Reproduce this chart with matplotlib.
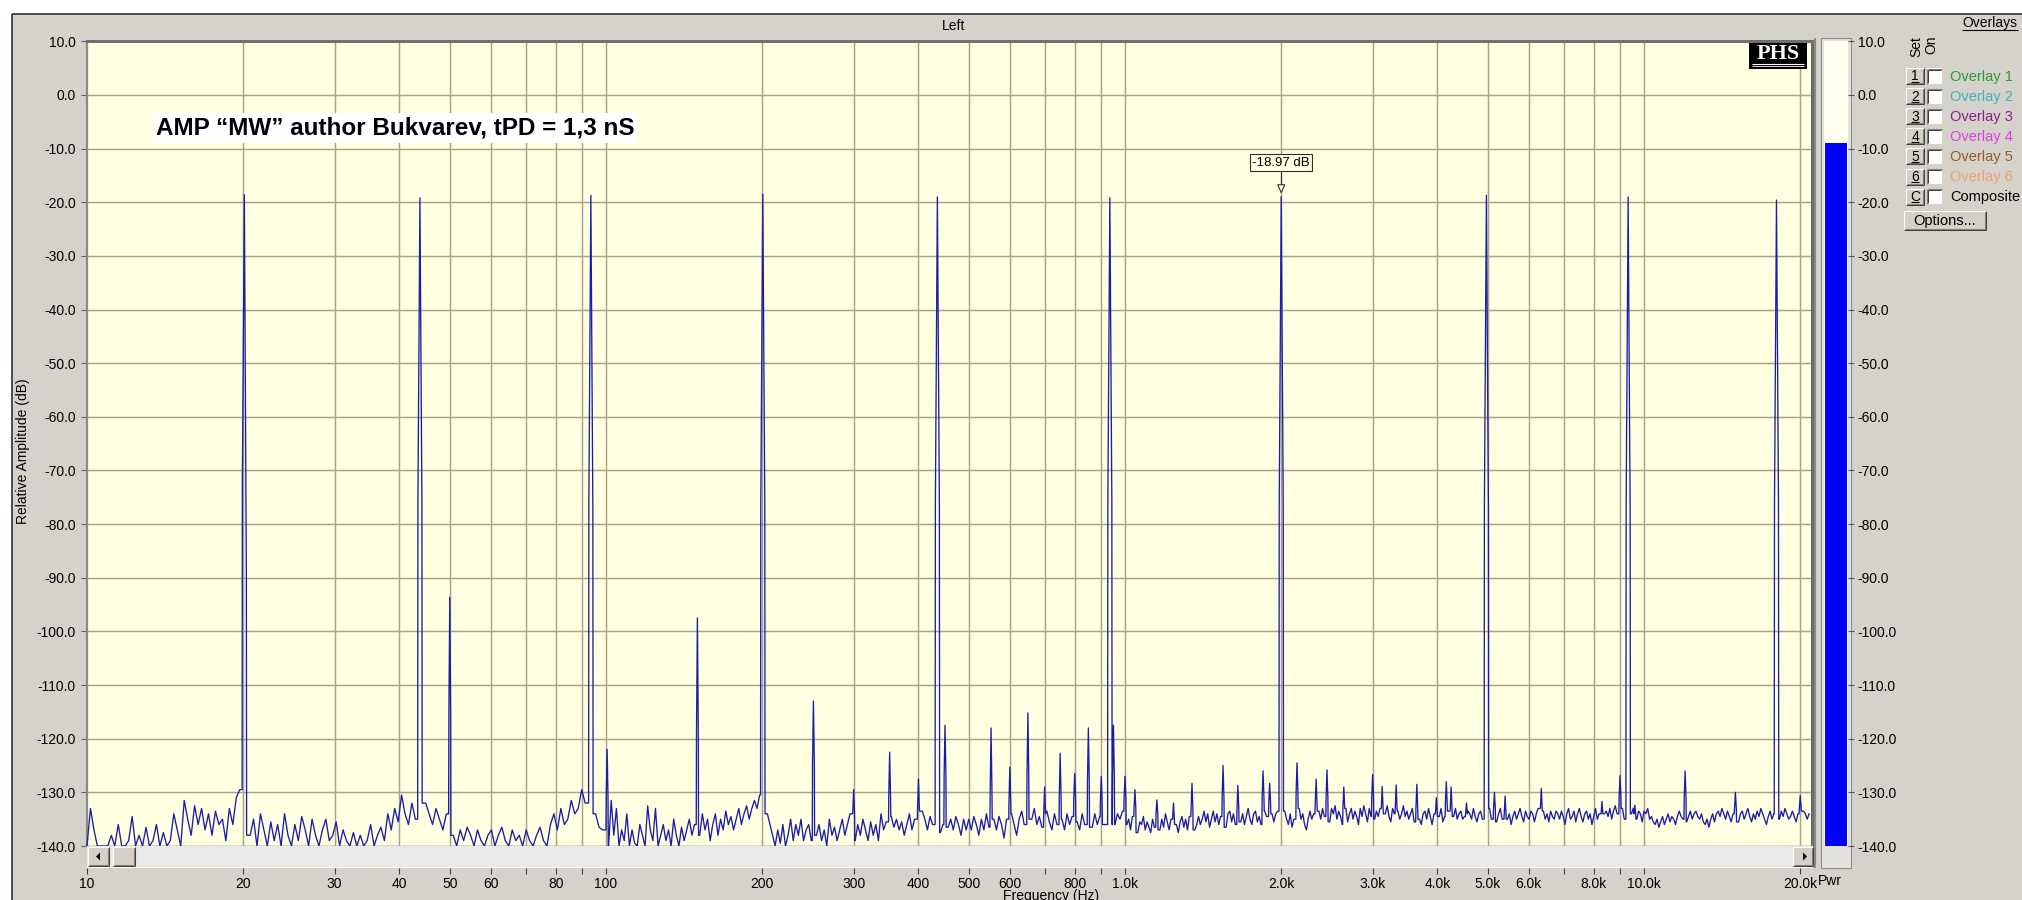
import numpy as np
import matplotlib
matplotlib.use("Agg")
import matplotlib.pyplot as plt
from matplotlib.patches import Rectangle, Polygon
from matplotlib.lines import Line2D
from matplotlib.ticker import NullLocator, NullFormatter, FixedLocator

plt.rcParams['font.family'] = ['Liberation Sans', 'DejaVu Sans']

# ---------------------------------------------------------------- data
tone_freqs = [20.1, 43.8, 93.5, 200.5, 435, 935, 2000, 4970, 9320, 18000]
tone_levels = [-18.6, -19.2, -18.7, -18.5, -19.0, -19.2, -18.97, -18.7, -19.0, -19.6]
tone_shoulder_lo = [-72, -76, -76, -76, -76, -76, -76, -76, -77, -76]
tone_shoulder_hi = [-90, -76, -77, -76, -76, -76, -76, -77, -77, -76]

spur_freqs = [50, 100.5, 150, 251, 300, 352, 400, 450, 552, 600, 650, 700, 750, 800,
              850, 900, 950, 1000, 1045, 1152, 1240, 1346, 1545, 1650, 1845, 1900,
              2145, 2335, 2450, 2640, 3000, 3130, 3330, 3650, 3980, 4160, 4250, 4550,
              5150, 5400, 6340, 8300, 8990, 9600, 12000, 15000, 20000]
spur_levels = [-93.6, -122, -97.5, -113, -129.5, -122.5, -127.5, -117.5, -118, -125.3,
               -115.2, -129, -122.7, -126.5, -118, -127, -117.5, -127, -129.5, -131.4,
               -132, -128.3, -125, -128.7, -126, -128.3, -124.5, -127.5, -125.8, -129,
               -126.7, -128.9, -128.6, -128.5, -131, -128, -129, -132, -130, -130.7,
               -129.3, -131.7, -126.9, -132.4, -126, -130, -130.6]
spur_shoulders = [-116, -131, -119, -124.5, -134, -131, -133, -127, -130, -132,
                  -127, -134, -131, -131, -128, -132, -127, -131, -133, -134,
                  -135, -133, -131, -133, -131, -132, -130, -132, -131, -133,
                  -131, -133, -133, -133, -134, -132, -133, -134, -133, -134,
                  -133, -134, -131, -134, -131, -133, -133]

noise_band_edges = [10, 20, 50, 100, 200, 500, 1000, 2000, 5000, 10000, 20800]
noise_10_20 = [
    -140, -133, -137, -140, -140, -140, -140, -138, -140, -136, -140, -140, -139, -134.5,
    -140, -138, -140, -136.5, -140, -139, -136, -140, -137.5, -140, -139, -134, -137, -140,
    -131.5, -135, -138, -132.5, -136, -133, -137, -134, -138, -133.5, -136, -135, -139,
    -133, -136, -131, -129.5]
noise_20_50 = [
    -132, -134.5, -138, -135, -140, -134, -137, -140, -135.5, -139, -136, -140, -134, -138,
    -140, -136, -139, -134.5, -137, -140, -135, -138, -140, -137, -135, -139, -138,
    -135.5, -140, -137, -139, -140, -137.5, -140, -138, -140, -139, -136, -140, -138,
    -136.5, -139, -134, -137, -133, -135.5,
    -130.5, -134, -136, -132, -135, -131, -133.5, -132, -134, -136, -133, -135, -137, -134]
noise_50_100 = [
    -136, -138, -140, -137, -139, -136.5, -138, -140, -137, -139, -140, -138,
    -137, -140, -138, -136.5, -139, -140, -137, -139, -138, -140,
    -137, -139, -140, -138, -136.5, -139, -140, -136,
    -134, -137, -133, -136, -135, -131.5, -134, -133,
    -129.5, -132, -135, -131, -134, -136.5, -137]
noise_100_200 = [
    -136, -140, -131.5, -138, -133, -140, -137, -139, -134, -140, -137, -139.5, -140, -136,
    -138, -140, -132.5, -137, -139, -133, -140, -138, -136, -139, -137, -140, -135, -138,
    -140, -136.5, -139, -137, -135, -138, -136,
    -140, -138, -134, -137, -135, -139, -136, -134, -138, -135, -137, -133.5, -136, -134.5,
    -137, -135, -133, -136, -134, -132.5, -135, -133, -131.5, -133, -130.5]
noise_200_500 = [
    -131, -132, -134, -136, -138, -140, -137, -139.5, -136, -140, -138, -135, -139, -136,
    -138, -135, -139, -137, -136, -139, -134.5, -138, -136, -139, -137, -140, -135, -138,
    -136.5, -139, -137, -135, -138, -136, -134,
    -137, -139, -136, -138, -135, -137, -139, -135.5, -138, -136, -139, -134, -137, -135.5,
    -138, -134.5, -136.5, -135, -137, -135.5, -138, -136, -134, -137, -135,
    -133, -136, -133.5, -135, -137, -134.5, -136, -138, -135, -137.5, -136, -134, -136.5,
    -135, -137, -134.5, -136, -138, -135, -137]
noise_500_1k = [
    -135, -137, -134.5, -136, -138, -135, -137, -134, -136.5, -139, -135, -137, -134.5,
    -136, -138.5, -135,
    -137, -134, -136, -138, -135, -133.5, -136, -134, -137, -135, -133, -136, -134.5, -136.5,
    -136, -133.5, -135.5, -137, -134, -136, -133, -135, -137, -134, -136, -134.5,
    -133.5, -135.5, -137, -134, -136, -133, -135, -136.5, -134, -136,
    -134.5, -133.5, -136, -134, -135.5, -133, -136, -134, -135, -133.5]
noise_1k_2k = [
    -134.5, -136, -135, -137, -134.5, -136.5, -135, -137.5, -135.5, -136, -134.5, -137,
    -135.5, -136.5, -137.5, -135, -136.5, -134.5, -136, -137, -135, -136.5, -134, -135.5,
    -137, -135, -136.5, -134, -136, -137.5, -135.5, -134.5, -136.5, -135, -137, -134.5,
    -136, -135, -137, -136,
    -134.5, -136, -135, -133.5, -135.5, -134, -136.5, -135, -133.5, -135.5, -134, -136,
    -134.5, -133, -135, -136.5, -134, -133.5, -135.5, -134, -136, -133, -134.5, -135.5,
    -134, -136, -134.5, -133, -135, -136, -134, -133.5, -135.5, -134.5, -136, -135, -133.5,
    -134.5, -136, -135, -134, -135.5, -134, -133.5, -135]
noise_2k_5k = [
    -134, -135.5, -133.5, -135, -136, -134, -136.5, -135, -137.5, -134.5, -133, -135, -134,
    -136, -137, -135, -133.5, -135, -134, -132.5, -134.5, -133.5, -135, -133, -134.5,
    -132.5, -134, -135.5, -133, -134, -132.5, -135, -133.5, -134.5, -136, -134, -133,
    -135.5, -134, -133,
    -135, -133.5, -134.5, -136, -133, -134.5, -132.5, -134, -135.5, -133, -134.5, -132.5,
    -135, -133.5, -134.5, -133, -135, -133.5, -134, -132.5, -134.5, -135.5, -133, -134,
    -136, -133.5, -135, -134, -132.5, -134.5, -133.5, -135, -134, -133, -135.5, -134.5,
    -133, -135, -136, -134,
    -133.5, -135, -133, -134.5, -136, -134, -133.5, -135, -134.5, -133, -135.5, -134.5,
    -135, -133.5, -134, -136, -134.5, -133, -135, -134, -133.5, -135, -134.5, -136, -133.5,
    -134, -135, -133, -134.5, -135.5, -134, -133.5, -135, -134, -135.5]
noise_5k_10k = [
    -134, -133, -135, -134.5, -133.5, -135.5, -134, -133, -135, -134.5, -133.5, -135, -134,
    -136, -134.5, -133.5, -135, -134, -133, -134.5, -135.5, -133.5, -134.5, -135, -133.5,
    -134, -135.5, -134, -133, -135, -134.5, -133.5, -135, -134, -135.5, -133.5, -134.5,
    -135, -133.5, -134,
    -135, -133.5, -134.5, -136, -134, -133, -135, -134.5, -133.5, -135.5, -134, -133,
    -134.5, -135.5, -134, -133.5, -135, -134, -136, -134.5, -133, -135, -134, -133.5, -135,
    -134, -133.5, -134.5, -133, -135, -133.5, -132.5, -134, -133, -134.5, -133, -135, -134,
    -133.5, -132.5, -134, -133, -134.5, -135, -133.5, -134, -135.5]
noise_10k_21k = [
    -133.5, -134, -133, -135, -134.5, -135.5, -136, -135, -136.5, -135.5, -134.5, -136,
    -135, -134, -135.5, -134.5, -135, -136, -134.5, -133.5, -134.5, -135, -134, -135.5,
    -134.5, -133.5, -135, -134, -133.5, -134.5, -135, -134, -135.5, -136, -135, -136.5,
    -135, -134, -135.5, -134,
    -133.5, -134.5, -133, -134, -135, -133.5, -134.5, -135.5, -134, -133, -134.5, -135.5,
    -134, -133.5, -135, -134, -133, -134.5, -135.5, -134, -135, -133.5, -134.5, -133, -134,
    -135, -136, -134.5, -133.5, -135, -134, -133, -134.5, -135, -133.5, -134.5, -133, -134,
    -135, -134.5, -133.5, -134.5, -135.5, -134, -134.5, -135, -133.5, -134, -135, -134]
noise_bands = [noise_10_20, noise_20_50, noise_50_100, noise_100_200, noise_200_500,
               noise_500_1k, noise_1k_2k, noise_2k_5k, noise_5k_10k, noise_10k_21k]

y_ticks = [10, 0, -10, -20, -30, -40, -50, -60, -70, -80, -90, -100, -110, -120, -130, -140]
x_tick_freqs = [10, 20, 30, 40, 50, 60, 80, 100, 200, 300, 400, 500, 600, 800,
                1000, 2000, 3000, 4000, 5000, 6000, 8000, 10000, 20000]
x_tick_labels = ['10', '20', '30', '40', '50', '60', '80', '100', '200', '300', '400',
                 '500', '600', '800', '1.0k', '2.0k', '3.0k', '4.0k', '5.0k', '6.0k',
                 '8.0k', '10.0k', '20.0k']
x_minor_freqs = [70, 90, 700, 900, 7000, 9000]
grid_freqs = [20, 30, 40, 50, 60, 70, 80, 90, 100, 200, 300, 400, 500, 600, 700, 800,
              900, 1000, 2000, 3000, 4000, 5000, 6000, 7000, 8000, 9000, 10000, 20000]

meter_level = -8.9
marker_freq = 2000
marker_text = "-18.97 dB"
annotation_text = "AMP \u201cMW\u201d author Bukvarev, tPD = 1,3 nS"
overlay_keys = ['1', '2', '3', '4', '5', '6', 'C']
overlay_labels = ['Overlay 1', 'Overlay 2', 'Overlay 3', 'Overlay 4', 'Overlay 5',
                  'Overlay 6', 'Composite']
overlay_colors = ['#2f9a3c', '#3fb3b6', '#8e1f8e', '#e03ee0', '#9a5a2c', '#f2a070', '#000000']

# ---------------------------------------------------------------- figure helpers
W, H = 2022, 900
fig = plt.figure(figsize=(W / 100, H / 100), dpi=100)
fig.patch.set_facecolor('white')
PANEL = '#d5d2cc'


def fx(x):
    return x / W


def fy(y):
    return 1 - y / H


def rect(x0, y0, x1, y1, fc, ec='none', lw=0, z=1):
    r = Rectangle((fx(x0), fy(y1)), (x1 - x0) / W, (y1 - y0) / H,
                  transform=fig.transFigure, facecolor=fc, edgecolor=ec,
                  linewidth=lw, zorder=z)
    fig.add_artist(r)
    return r


def line(xs, ys, color, lw=0.75, z=6):
    fig.add_artist(Line2D([fx(v) for v in xs], [fy(v) for v in ys],
                          transform=fig.transFigure, color=color, lw=lw, zorder=z,
                          solid_capstyle='butt'))


def text(x, y, s, **kw):
    kw.setdefault('zorder', 7)
    return fig.text(fx(x), fy(y), s, **kw)


def button(x0, y0, x1, y1, label, underline=False, fs=10):
    rect(x0, y0, x1, y1, '#d4d0c8', z=5)
    line([x0, x1], [y0, y0], '#ffffff')
    line([x0, x0], [y0, y1], '#ffffff')
    line([x0, x1], [y1, y1], '#404040')
    line([x1, x1], [y0, y1], '#404040')
    line([x0 + 1, x1 - 1], [y1 - 1, y1 - 1], '#808080')
    line([x1 - 1, x1 - 1], [y0 + 1, y1 - 1], '#808080')
    t = text((x0 + x1) / 2, (y0 + y1) / 2 + 0.5, label, ha='center', va='center',
             fontsize=fs, color='black')
    if underline:
        line([(x0 + x1) / 2 - 4, (x0 + x1) / 2 + 4], [y1 - 2.5, y1 - 2.5], 'black', lw=0.8)
    return t


# ---------------------------------------------------------------- background panel
rect(12, 14, W, H, PANEL, z=-10)
line([12, W], [14, 14], '#303030', lw=1.2, z=-9)
line([12, 12], [14, H], '#303030', lw=1.2, z=-9)

# ---------------------------------------------------------------- main plot
PL, PR, PT, PB = 87, 1812, 41.3, 846
PX_PER_DEC = 519.0
ax = fig.add_axes([fx(PL), fy(PB), (PR - PL) / W, (PB - PT) / H])
ax.set_facecolor('#ffffe1')
ax.set_xscale('log')
ax.set_xlim(10, 10 * 10 ** ((PR - PL) / PX_PER_DEC))
ax.set_ylim(-140, 10)
ax.set_xticks(grid_freqs)
ax.xaxis.set_minor_locator(NullLocator())
ax.xaxis.set_minor_formatter(NullFormatter())
ax.tick_params(axis='x', which='both', bottom=False, labelbottom=False)
ax.set_yticks(y_ticks)
ax.set_yticklabels([f'{v:.1f}' for v in y_ticks])
ax.tick_params(axis='y', direction='out', length=4, width=0.8, color='#606060',
               labelsize=10, pad=4, labelcolor='black')
ax.set_axisbelow(True)
ax.grid(True, which='major', color='#a6a28e', lw=1.05)
for side, col, w in [('top', '#707070', 2.2), ('left', '#8a8a8a', 1.6),
                     ('right', '#6a6a6a', 2.2), ('bottom', '#a6a28e', 1.0)]:
    ax.spines[side].set_color(col)
    ax.spines[side].set_linewidth(w)


# build the trace from the noise floor, tones and spurs
def pxr(px):
    return 10 ** (px / PX_PER_DEC)


nf_list, nd_list = [], []
for k, vals in enumerate(noise_bands):
    last = k == len(noise_bands) - 1
    f = np.geomspace(noise_band_edges[k], noise_band_edges[k + 1], len(vals), endpoint=last)
    nf_list.append(f)
    nd_list.append(np.asarray(vals, float))
nf = np.concatenate(nf_list)
nd = np.concatenate(nd_list)

r1 = pxr(2.0)
rs = pxr(0.9)
edge = pxr(0.25)
spikes = []
for f0, L, lo, hi in zip(tone_freqs, tone_levels, tone_shoulder_lo, tone_shoulder_hi):
    spikes.append((f0, r1, lo, L, hi))
for f0, L, sh in zip(spur_freqs, spur_levels, spur_shoulders):
    spikes.append((f0, rs, sh, L, sh))

keep = np.ones(nf.size, bool)
for f0, r, lo, L, hi in spikes:
    keep &= ~((nf > f0 / r / edge / pxr(0.3)) & (nf < f0 * r * edge * pxr(0.3)))
kf, kd = nf[keep], nd[keep]

sf, sd = [], []
for f0, r, lo, L, hi in spikes:
    il = max(np.searchsorted(kf, f0) - 1, 0)
    ir = min(np.searchsorted(kf, f0), kf.size - 1)
    sf += [f0 / r / edge, f0 / r, f0, f0 * r, f0 * r * edge]
    sd += [kd[il], lo, L, hi, kd[ir]]

all_f = np.concatenate([kf, np.array(sf)])
all_d = np.concatenate([kd, np.array(sd)])
order = np.argsort(all_f, kind='stable')
ax.plot(all_f[order], all_d[order], color='#1c1ca6', lw=0.95, clip_on=False, zorder=3)

# secondary x axis under the scrollbar
sec = ax.secondary_xaxis(-21.5 / (PB - PT))
sec.set_xticks(x_tick_freqs)
sec.set_xticklabels(x_tick_labels)
sec.xaxis.set_minor_locator(FixedLocator(x_minor_freqs))
sec.xaxis.set_minor_formatter(NullFormatter())
sec.tick_params(which='both', direction='out', length=4, width=0.8, color='#404040',
                labelsize=10, pad=2.5)
sec.spines['bottom'].set_visible(False)

# scrollbar
rect(PL, PB, PR + 1, PB + 21, '#e9e9e7', z=2)
button(PL + 1, PB + 1, PL + 22, PB + 20, '')
fig.add_artist(Polygon([[fx(PL + 9), fy(PB + 10.5)], [fx(PL + 13), fy(PB + 6.5)],
                        [fx(PL + 13), fy(PB + 14.5)]], closed=True, transform=fig.transFigure,
                       facecolor='black', edgecolor='none', zorder=8))
button(PL + 26, PB + 1, PL + 48, PB + 20, '')
button(PR - 19, PB + 1, PR + 1, PB + 20, '')
fig.add_artist(Polygon([[fx(PR - 5), fy(PB + 10.5)], [fx(PR - 9), fy(PB + 6.5)],
                        [fx(PR - 9), fy(PB + 14.5)]], closed=True, transform=fig.transFigure,
                       facecolor='black', edgecolor='none', zorder=8))

# titles and labels
text((PL + PR) / 2 + 4, 26, 'Left', ha='center', va='center', fontsize=10)
text(23, 451, 'Relative Amplitude (dB)', rotation=90, ha='center', va='center', fontsize=10)
text(1051, 889, 'Frequency (Hz)', ha='center', va='top', fontsize=10)
text(1830, 881, 'Pwr', ha='center', va='center', fontsize=10)

# annotation
text(156, 128, annotation_text, ha='left', va='center', fontsize=17.5, fontweight='bold',
     bbox=dict(boxstyle='square,pad=0.15', fc='white', ec='none'))

# marker at the 2 kHz tone
m_level = tone_levels[tone_freqs.index(marker_freq)]
mx, my = ax.transData.transform((marker_freq, m_level))
mx_px, my_px = mx, H - my  # pixel coords from top
text(mx_px, my_px - 34, marker_text, ha='center', va='center', fontsize=9.5,
     bbox=dict(boxstyle='square,pad=0.18', fc='#ffffe1', ec='#303030', lw=0.8))
line([mx_px, mx_px], [my_px - 25, my_px - 12], '#303030', lw=0.8)
fig.add_artist(Polygon([[fx(mx_px - 3.5), fy(my_px - 12)], [fx(mx_px + 3.5), fy(my_px - 12)],
                        [fx(mx_px), fy(my_px - 4)]], closed=True, transform=fig.transFigure,
                       facecolor='#ffffe1', edgecolor='#303030', lw=0.8, zorder=8))

# PHS logo
rect(1749, 43, 1807, 69, 'black', z=6)
text(1778, 54, 'PHS', ha='center', va='center', fontsize=16, fontweight='bold',
     family=['Liberation Serif', 'DejaVu Serif'], color='white')
line([1752, 1804], [63.5, 63.5], 'white', lw=0.8, z=8)
line([1752, 1804], [65.8, 65.8], 'white', lw=0.6, z=8)

# ---------------------------------------------------------------- power meter
line([1815, 1815], [38, 868], '#8a8a8a', lw=1.5, z=-8)
rect(1821, 38, 1851, 868, '#e4e2de', ec='#8c8c8c', lw=0.8, z=-8)
axm = fig.add_axes([fx(1824), fy(PB), (1848 - 1824) / W, (PB - PT) / H])
axm.set_facecolor('#fffff0')
axm.set_xlim(0, 1)
axm.set_ylim(-140, 10)
axm.bar([0.5], [meter_level + 140], bottom=-140, width=0.88, color='#0000ff')
axm.set_xticks([])
axm.yaxis.tick_right()
axm.set_yticks(y_ticks)
axm.set_yticklabels([f'{v:.1f}' for v in y_ticks])
axm.tick_params(axis='y', direction='out', length=4, width=0.8, color='#505050',
                labelsize=10, pad=3)
for s in axm.spines.values():
    s.set_visible(False)

# ---------------------------------------------------------------- overlays panel
text(1990, 23, 'Overlays', ha='center', va='center', fontsize=10)
line([1962, 2018], [30, 30], 'black', lw=0.8)
text(1916, 36, 'Set', rotation=90, ha='center', va='top', fontsize=10)
text(1931, 36, 'On', rotation=90, ha='center', va='top', fontsize=10)
for i, (key, lab, col) in enumerate(zip(overlay_keys, overlay_labels, overlay_colors)):
    yc = 76 + 20.1 * i
    button(1906, yc - 8, 1924, yc + 8, key, underline=True)
    rect(1927, yc - 7.5, 1942, yc + 7.5, 'white', z=5)
    line([1927, 1942], [yc - 7.5, yc - 7.5], '#808080')
    line([1927, 1927], [yc - 7.5, yc + 7.5], '#808080')
    line([1928, 1941], [yc - 6.5, yc - 6.5], '#404040')
    line([1928, 1928], [yc - 6.5, yc + 6.5], '#404040')
    text(1950, yc + 0.5, lab, ha='left', va='center', fontsize=10.5, color=col)
button(1904, 211, 1986, 230, 'Options...', fs=10.5)

fig.savefig('out.png', dpi=100, facecolor=fig.get_facecolor())
